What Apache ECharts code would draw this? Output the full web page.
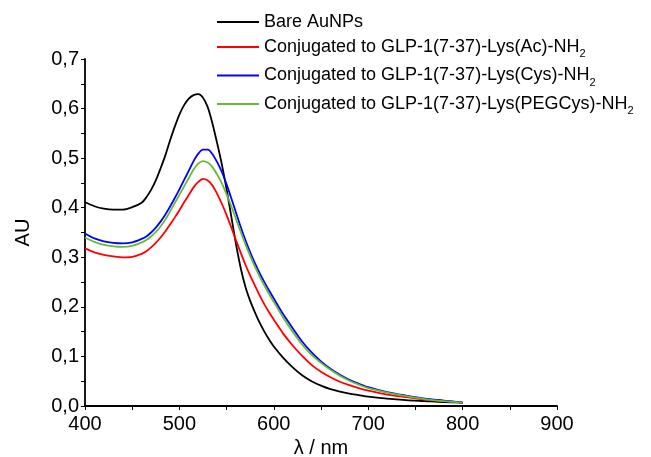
<!DOCTYPE html>
<html>
<head>
<meta charset="utf-8">
<script src="https://cdn.jsdelivr.net/npm/echarts@6/dist/echarts.min.js"></script>
<style>html,body{margin:0;padding:0;background:#fff}#c{width:651px;height:457px}</style>
</head>
<body>
<div id="c"></div>
<script>
const wavelengths = [400,410,420,430,440,450,460,465,470,475,480,485,490,495,500,505,510,515,520,525,530,535,540,545,550,555,560,565,570,575,580,585,590,595,600,610,620,630,640,650,660,670,680,690,700,720,740,760,780,800];
const bare = [.411,.403,.398,.396,.396,.401,.410,.421,.436,.455,.479,.505,.535,.563,.588,.607,.620,.627,.629,.622,.603,.570,.530,.487,.437,.382,.326,.278,.240,.212,.189,.168,.150,.134,.120,.097,.078,.062,.050,.041,.034,.029,.025,.022,.019,.015,.012,.010,.008,.007];
const lysAc = [.318,.310,.305,.302,.300,.301,.307,.312,.320,.329,.340,.352,.366,.380,.395,.411,.426,.441,.452,.458,.455,.445,.428,.408,.385,.360,.334,.309,.285,.263,.243,.223,.205,.189,.174,.146,.122,.101,.083,.069,.058,.049,.042,.036,.031,.023,.018,.013,.010,.007];
const lysCys = [.348,.338,.332,.329,.328,.330,.337,.342,.350,.360,.372,.386,.402,.419,.437,.456,.475,.494,.509,.517,.517,.508,.492,.472,.447,.419,.390,.361,.334,.310,.288,.268,.250,.233,.217,.185,.157,.130,.108,.090,.075,.063,.053,.045,.038,.028,.021,.015,.011,.007];
const lysPegCys = [.340,.331,.325,.322,.321,.323,.330,.335,.342,.351,.362,.376,.392,.409,.426,.443,.460,.477,.489,.494,.491,.482,.467,.449,.427,.403,.377,.351,.326,.303,.281,.261,.243,.226,.210,.178,.150,.124,.103,.087,.073,.061,.051,.043,.036,.027,.020,.014,.010,.007];
const seriesNames = ['Bare AuNPs','Conjugated to GLP-1(7-37)-Lys(Ac)-NH','Conjugated to GLP-1(7-37)-Lys(Cys)-NH','Conjugated to GLP-1(7-37)-Lys(PEGCys)-NH'];
const seriesSubs = ['','2','2','2'];
const seriesColors = ['#000000','#ff0000','#0000ff','#66bb33'];
const seriesData = [bare, lysAc, lysCys, lysPegCys];
const xTitle = 'λ / nm';
const yTitle = 'AU';

const FONT = "'Liberation Sans', Arial, sans-serif";
const chart = echarts.init(document.getElementById('c'), null, {renderer:'canvas'});
const series = seriesNames.map((n,i)=>({
  name:n, type:'line', smooth:0.3, showSymbol:false, symbol:'none',
  data: wavelengths.map((w,j)=>[w, seriesData[i][j]]),
  lineStyle:{color:seriesColors[i], width:1.8},
  itemStyle:{color:seriesColors[i]},
  z: 2+i, animation:false
}));
chart.setOption({
  animation:false,
  backgroundColor:'#fff',
  grid:{left:85, right:94, top:59, bottom:51, containLabel:false, outerBoundsMode:'none'},
  legend:{
    orient:'vertical', left:212, top:8, itemWidth:42, itemHeight:2, icon:'rect', itemGap:7,
    data: seriesNames,
    textStyle:{fontSize:18, fontFamily:FONT, color:'#000',
      rich:{m:{fontSize:18, fontFamily:FONT, color:'#000'}, s:{fontSize:11, fontFamily:FONT, color:'#000', verticalAlign:'bottom', padding:[14,0,0,0]}}},
    formatter: name => { const i = seriesNames.indexOf(name); return seriesSubs[i] ? '{m|'+name+'}{s|'+seriesSubs[i]+'}' : name; }
  },
  xAxis:{
    type:'value', min:400, max:900, interval:100,
    name:xTitle, nameLocation:'middle', nameGap:30,
    nameTextStyle:{fontSize:20, fontFamily:FONT, color:'#000'},
    axisLine:{show:true, lineStyle:{color:'#000', width:1.8}},
    axisTick:{show:true, length:4, lineStyle:{color:'#000', width:1}},
    minorTick:{show:true, splitNumber:2, length:4, lineStyle:{color:'#000', width:1}},
    splitLine:{show:false},
    axisLabel:{fontSize:20, fontFamily:FONT, color:'#000', margin:8}
  },
  yAxis:{
    type:'value', min:0, max:0.7, interval:0.1,
    name:yTitle, nameLocation:'middle', nameGap:52, nameRotate:90,
    nameTextStyle:{fontSize:20, fontFamily:FONT, color:'#000'},
    axisLine:{show:true, lineStyle:{color:'#000', width:1.8}},
    axisTick:{show:true, length:4, lineStyle:{color:'#000', width:1}},
    minorTick:{show:true, splitNumber:2, length:4, lineStyle:{color:'#000', width:1}},
    splitLine:{show:false},
    axisLabel:{fontSize:20, fontFamily:FONT, color:'#000', margin:6, formatter: v => v.toFixed(1).replace('.', ',')}
  },
  series
});
</script>
</body>
</html>
